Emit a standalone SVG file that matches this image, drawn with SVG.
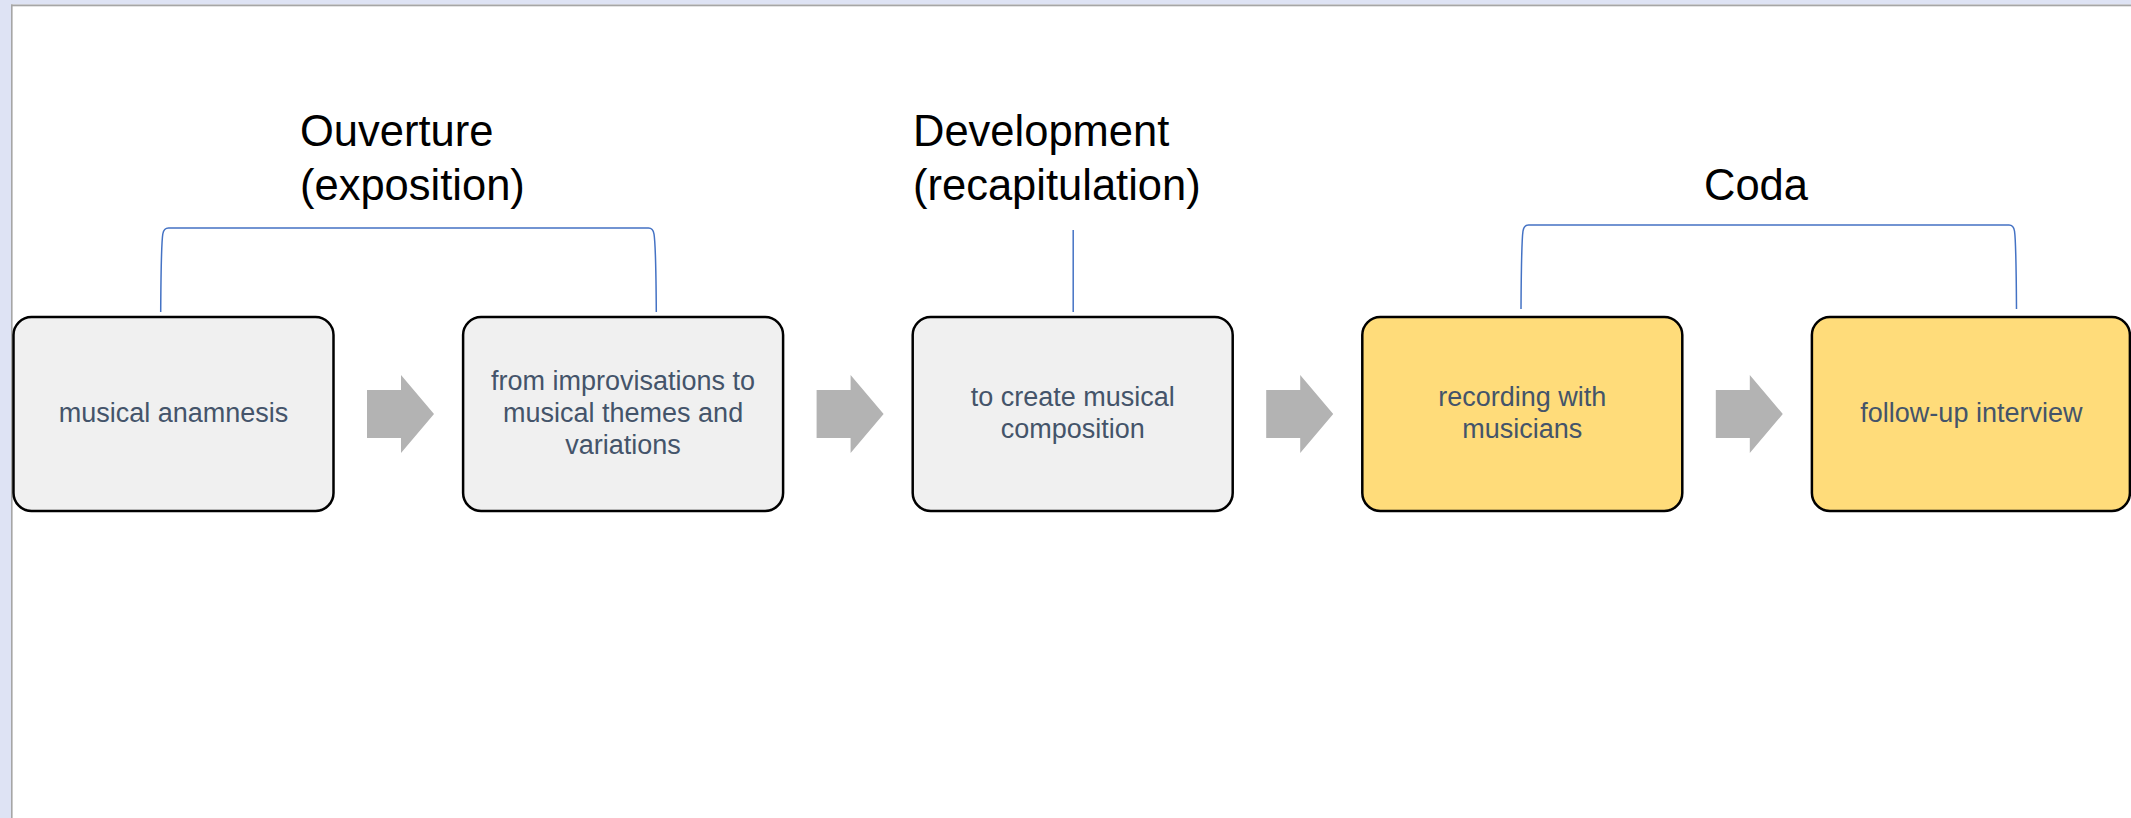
<svg xmlns="http://www.w3.org/2000/svg" width="2131" height="818" viewBox="0 0 2131 818">
  <style>
    .box { stroke: #000000; stroke-width: 2.5; }
    .grey { fill: #F0F0F0; }
    .gold { fill: #FFDC7A; }
    .lbl { font-family: "Liberation Sans", Arial, sans-serif; font-size: 27px; fill: #44546A; text-anchor: middle; }
    .head { font-family: "Liberation Sans", Arial, sans-serif; font-size: 43.5px; fill: #000000; }
    .brk { fill: none; stroke: #4472C4; stroke-width: 1.5; }
    .arr { fill: #B3B3B3; }
  </style>
  <defs>
    <path id="arrow" d="M0,390 H34 V375 L67,414 L34,453 V438 H0 Z"/>
  </defs>

  <!-- page frame -->
  <rect x="0" y="0" width="2131" height="818" fill="#FFFFFF"/>
  <rect x="0" y="0" width="2131" height="4.5" fill="#DEE3F4"/>
  <rect x="0" y="4.5" width="2131" height="1.8" fill="#A6A6A6"/>
  <rect x="0" y="0" width="11" height="818" fill="#DEE3F4"/>
  <rect x="11" y="4.5" width="1.6" height="814" fill="#A6A6A6"/>

  <!-- section headings -->
  <g id="heading-ouverture">
    <text class="head" x="300" y="146">Ouverture</text>
    <text class="head" x="300" y="200">(exposition)</text>
  </g>
  <g id="heading-development">
    <text class="head" x="913" y="146">Development</text>
    <text class="head" x="913" y="200">(recapitulation)</text>
  </g>
  <g id="heading-coda">
    <text class="head" x="1704" y="200">Coda</text>
  </g>

  <!-- connectors: brackets and arrows -->
  <g id="connectors">
    <path class="brk" d="M160.7,312 C161,262 161.5,242 162.8,234 Q163.8,228 168.5,228 H648.5 Q653,228 654,234 C655.3,242 656,262 656.3,312"/>
    <path class="brk" d="M1073.2,230 V312"/>
    <path class="brk" d="M1521,309 C1521.3,259 1521.8,239 1523,231 Q1524,225 1528.5,225 H2009 Q2013.5,225 2014.5,231 C2015.7,239 2016.2,259 2016.5,309"/>
    <use href="#arrow" class="arr" x="367" y="0"/>
    <use href="#arrow" class="arr" x="816.6" y="0"/>
    <use href="#arrow" class="arr" x="1266.2" y="0"/>
    <use href="#arrow" class="arr" x="1715.8" y="0"/>
  </g>

  <!-- nodes -->
  <g id="node-anamnesis">
    <rect class="box grey" x="13.5" y="317" width="320" height="194" rx="18" ry="18"/>
    <text class="lbl" x="173.5" y="422.3">musical anamnesis</text>
  </g>
  <g id="node-improvisations">
    <rect class="box grey" x="463.1" y="317" width="320" height="194" rx="18" ry="18"/>
    <text class="lbl" x="623.1" y="390.3">from improvisations to</text>
    <text class="lbl" x="623.1" y="422.3">musical themes and</text>
    <text class="lbl" x="623.1" y="454.3">variations</text>
  </g>
  <g id="node-composition">
    <rect class="box grey" x="912.7" y="317" width="320" height="194" rx="18" ry="18"/>
    <text class="lbl" x="1072.7" y="406.3">to create musical</text>
    <text class="lbl" x="1072.7" y="438.3">composition</text>
  </g>
  <g id="node-recording">
    <rect class="box gold" x="1362.3" y="317" width="320" height="194" rx="18" ry="18"/>
    <text class="lbl" x="1522.3" y="406.3">recording with</text>
    <text class="lbl" x="1522.3" y="438.3">musicians</text>
  </g>
  <g id="node-interview">
    <rect class="box gold" x="1811.9" y="317" width="318" height="194" rx="18" ry="18"/>
    <text class="lbl" x="1971.4" y="422.3">follow-up interview</text>
  </g>
</svg>
